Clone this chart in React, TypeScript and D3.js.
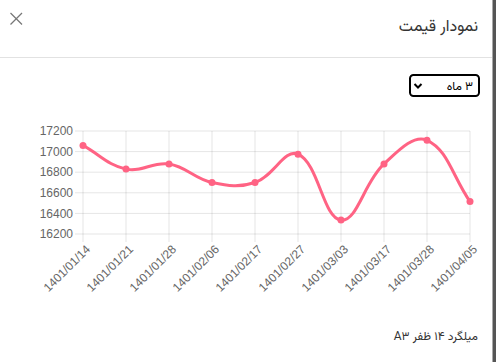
import React from "react";
import * as d3 from "d3";

const categories = [
  "1401/01/14", "1401/01/21", "1401/01/28", "1401/02/06", "1401/02/17",
  "1401/02/27", "1401/03/03", "1401/03/17", "1401/03/28", "1401/04/05",
];
const prices = [17060, 16830, 16880, 16700, 16700, 16975, 16335, 16880, 17110, 16515];
const yTicks = [16200, 16400, 16600, 16800, 17000, 17200];

const titleText = "نمودار قیمت";
const selectText = "۳ ماه";
const productText = "میلگرد ۱۴ ظفر A۳";

const W = 496;
const H = 362;
const left = 83;
const right = 470;
const top = 131;
const bottom = 234;
const LINE = "rgb(255, 99, 132)";
const GRID = "rgba(0,0,0,0.1)";
const persianFont = "Vazirmatn, Vazir, Tahoma, 'DejaVu Sans', sans-serif";
const axisFont = "Arial, 'Liberation Sans', Helvetica, sans-serif";

function splinePath(pts: [number, number][], t: number) {
  const p = d3.path();
  const n = pts.length;
  const cps: { prev: [number, number]; next: [number, number] }[] = [];
  for (let i = 0; i < n; i++) {
    const cur = pts[i];
    const prev = pts[i - 1] || cur;
    const next = pts[i + 1] || cur;
    const d01 = Math.hypot(cur[0] - prev[0], cur[1] - prev[1]);
    const d12 = Math.hypot(next[0] - cur[0], next[1] - cur[1]);
    let s01 = d01 / (d01 + d12);
    let s12 = d12 / (d01 + d12);
    if (isNaN(s01)) s01 = 0;
    if (isNaN(s12)) s12 = 0;
    const fa = t * s01;
    const fb = t * s12;
    cps.push({
      prev: [cur[0] - fa * (next[0] - prev[0]), cur[1] - fa * (next[1] - prev[1])],
      next: [cur[0] + fb * (next[0] - prev[0]), cur[1] + fb * (next[1] - prev[1])],
    });
  }
  p.moveTo(pts[0][0], pts[0][1]);
  for (let i = 1; i < n; i++) {
    const a = cps[i - 1].next;
    const b = cps[i].prev;
    p.bezierCurveTo(a[0], a[1], b[0], b[1], pts[i][0], pts[i][1]);
  }
  return p.toString();
}

export default function App() {
  const x = d3.scalePoint<string>().domain(categories).range([left, right]);
  const y = d3.scaleLinear().domain([16200, 17200]).range([bottom, top]);
  const pts: [number, number][] = categories.map((c, i) => [x(c) as number, y(prices[i])]);
  const d = splinePath(pts, 0.4);

  return (
    <svg
      width={W}
      height={H}
      style={{ position: "absolute", left: 0, top: 0, background: "#fff" }}
    >
      <rect x={0} y={0} width={W} height={H} fill="#fff" />
      {/* right dark edge */}
      <rect x={492.5} y={0} width={3.5} height={H} fill="#555" />

      {/* header */}
      <g stroke="#777" strokeWidth={1.3}>
        <line x1={10.5} y1={13} x2={22} y2={24.5} />
        <line x1={22} y1={13} x2={10.5} y2={24.5} />
      </g>
      <text
        x={478}
        y={31}
        textAnchor="start"
        fontSize={16}
        fill="#333"
        fontFamily={persianFont}
        direction="rtl"
      >
        {titleText}
      </text>
      <line x1={0} y1={57.5} x2={492} y2={57.5} stroke="#e2e2e2" />

      {/* select */}
      <rect x={410} y={75} width={69} height={21} rx={3.5} fill="#fff" stroke="#000" strokeWidth={2} />
      <path d="M414.5,84 L418,87.5 L421.5,84" fill="none" stroke="#000" strokeWidth={2} />
      <text
        x={473}
        y={90}
        textAnchor="start"
        fontSize={12}
        fill="#000"
        fontFamily={persianFont}
        direction="rtl"
      >
        {selectText}
      </text>

      {/* grid */}
      {yTicks.map((t) => (
        <line key={"h" + t} x1={left - 8} x2={right} y1={y(t)} y2={y(t)} stroke={GRID} />
      ))}
      {categories.map((c) => (
        <line key={"v" + c} x1={x(c)} x2={x(c)} y1={top} y2={bottom + 8} stroke={GRID} />
      ))}

      {/* y labels */}
      {yTicks.map((t) => (
        <text
          key={"yl" + t}
          x={73}
          y={y(t)}
          dy="0.35em"
          textAnchor="end"
          fontSize={12}
          fill="#666"
          fontFamily={axisFont}
        >
          {t}
        </text>
      ))}

      {/* x labels */}
      {categories.map((c) => (
        <text
          key={"xl" + c}
          transform={`translate(${(x(c) as number) + 2},${bottom + 10}) rotate(-45)`}
          textAnchor="end"
          dy="0.7em"
          fontSize={12}
          fill="#666"
          fontFamily={axisFont}
        >
          {c}
        </text>
      ))}

      {/* line */}
      <path d={d} fill="none" stroke={LINE} strokeWidth={3} strokeLinejoin="round" />
      {pts.map((p, i) => (
        <circle key={"p" + i} cx={p[0]} cy={p[1]} r={3.5} fill={LINE} />
      ))}

      {/* footer */}
      <text
        x={478}
        y={340}
        textAnchor="start"
        fontSize={12}
        fill="#333"
        fontFamily={persianFont}
        direction="rtl"
      >
        {productText}
      </text>
    </svg>
  );
}
